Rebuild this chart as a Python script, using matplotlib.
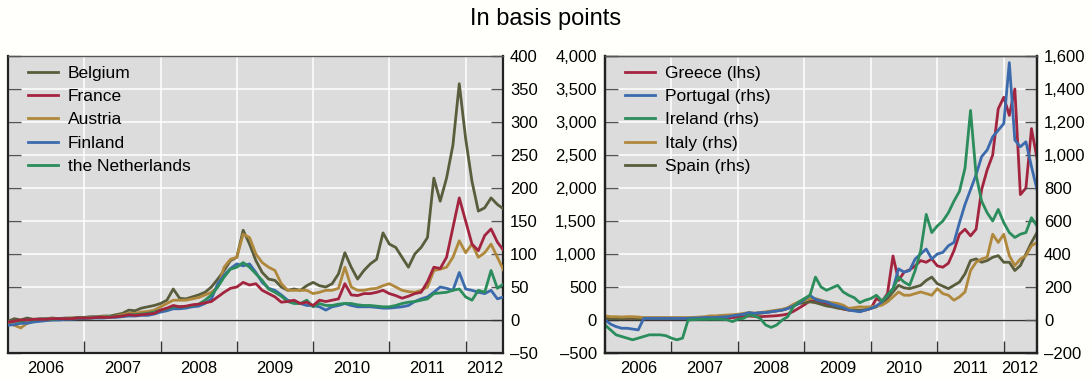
import numpy as np
import matplotlib
matplotlib.use("Agg")
import matplotlib.pyplot as plt
from matplotlib.ticker import FixedLocator, FuncFormatter, NullFormatter

plt.rcParams["font.family"] = ["Liberation Sans", "DejaVu Sans"]

# Monthly observations, January 2006 to July 2012 (basis points)
month_index = np.arange(79)
time_axis = 2006 + month_index / 12.0

belgium = [-2, 2, 0, 3, 1, 2, 2, 3, 2, 3, 3, 4,
           4, 5, 5, 6, 6, 8, 10, 15, 14, 18, 20, 22,
           25, 30, 47, 33, 32, 35, 38, 42, 50, 62, 75, 90,
           95, 136, 115, 90, 72, 62, 60, 50, 45, 47, 45, 52,
           57, 52, 50, 55, 70, 102, 80, 62, 75, 85, 92, 132,
           115, 110, 95, 80, 100, 110, 125, 215, 180, 215, 265, 358,
           275, 210, 165, 170, 185, 175, 168]
france = [-3, -2, 0, 0, 1, 1, 1, 2, 2, 2, 2, 3,
          3, 3, 4, 4, 4, 5, 6, 8, 7, 8, 9, 10,
          15, 18, 22, 20, 21, 23, 24, 26, 28, 35, 42, 48,
          50, 57, 53, 55, 45, 40, 35, 27, 28, 30, 25, 27,
          22, 30, 28, 30, 32, 55, 38, 37, 40, 40, 42, 45,
          40, 37, 33, 36, 40, 42, 58, 80, 78, 95, 140, 185,
          150, 115, 105, 128, 138, 118, 105]
austria = [-5, -8, -12, -5, -2, 0, 1, 2, 2, 2, 3, 3,
           3, 4, 4, 5, 5, 6, 8, 10, 10, 12, 13, 15,
           20, 25, 30, 30, 30, 32, 34, 38, 42, 50, 80, 92,
           95, 130, 125, 100, 87, 80, 75, 55, 45, 45, 45, 45,
           40, 42, 45, 45, 48, 80, 50, 45, 45, 47, 48, 52,
           55, 50, 45, 43, 42, 45, 50, 75, 77, 80, 95, 120,
           102, 115, 95, 102, 115, 95, 75]
finland = [-8, -7, -5, -5, -3, -2, -1, 0, 0, 1, 1, 2,
           2, 3, 3, 3, 4, 4, 5, 6, 6, 7, 7, 9,
           12, 14, 17, 17, 18, 20, 21, 25, 32, 55, 68, 78,
           85, 82, 85, 72, 57, 48, 45, 38, 30, 27, 25, 22,
           22, 20, 15, 20, 22, 25, 22, 20, 20, 20, 19, 18,
           18, 19, 20, 22, 28, 32, 35, 42, 50, 48, 45, 72,
           47, 45, 42, 40, 45, 32, 35]
netherlands = [-3, -2, -2, 0, 0, 1, 1, 1, 2, 2, 2, 3,
               3, 3, 4, 4, 5, 5, 6, 8, 8, 9, 10, 12,
               15, 17, 20, 20, 20, 22, 24, 30, 38, 50, 65, 77,
               80, 87, 80, 70, 60, 47, 42, 36, 28, 25, 25, 30,
               20, 25, 22, 22, 24, 25, 25, 23, 22, 22, 21, 20,
               20, 22, 25, 27, 28, 30, 32, 40, 41, 42, 45, 47,
               35, 30, 45, 42, 75, 48, 55]

greece = [30, 25, 25, 22, 25, 25, 22, 20, 20, 20, 20, 20,
          20, 20, 22, 22, 22, 25, 25, 30, 28, 30, 30, 35,
          45, 50, 60, 55, 50, 55, 60, 65, 75, 90, 130, 180,
          230, 290, 280, 270, 250, 225, 190, 165, 150, 150, 130, 150,
          175, 325, 280, 400, 970, 600, 725, 760, 820, 900, 875, 925,
          820, 800, 860, 1050, 1300, 1375, 1275, 1375, 1975, 2275, 2500, 3200,
          3375, 3100, 3500, 1900, 2000, 2900, 2450]
portugal = [0, -25, -40, -50, -50, -55, -60, 10, 10, 10, 10, 10,
            10, 10, 10, 10, 12, 12, 15, 15, 15, 18, 20, 25,
            30, 35, 45, 40, 45, 45, 50, 55, 60, 70, 85, 100,
            125, 150, 125, 115, 110, 95, 85, 75, 60, 55, 50, 60,
            70, 85, 110, 150, 190, 310, 290, 300, 370, 400, 430, 370,
            400, 410, 450, 470, 590, 700, 790, 880, 990, 1030, 1110, 1150,
            1190, 1560, 1090, 1050, 1080, 930, 790]
ireland = [-30, -60, -90, -100, -110, -120, -110, -100, -90, -90, -90, -95,
           -110, -120, -110, 0, 2, 4, 4, 5, 5, 4, 2, -10,
           5, 10, 30, 25, 10, -30, -45, -30, 0, 20, 80, 110,
           130, 150, 260, 200, 180, 195, 210, 170, 150, 135, 105, 120,
           130, 150, 115, 150, 190, 260, 230, 210, 300, 420, 640, 530,
           570, 600, 650, 720, 780, 920, 1270, 880, 720, 650, 600, 670,
           590, 530, 500, 520, 530, 620, 570]
italy = [25, 20, 20, 18, 20, 20, 18, 15, 15, 15, 15, 15,
         15, 15, 15, 15, 16, 18, 20, 25, 25, 28, 30, 32,
         35, 40, 45, 42, 45, 50, 55, 60, 65, 75, 95, 110,
         120, 130, 130, 120, 110, 105, 100, 90, 70, 75, 80, 78,
         80, 85, 90, 110, 140, 170, 150, 150, 160, 170, 160, 150,
         190, 160, 150, 120, 140, 170, 300, 350, 370, 380, 520, 470,
         520, 390, 330, 370, 390, 450, 470]
spain = [10, 8, 8, 8, 10, 10, 8, 8, 8, 8, 8, 8,
         8, 8, 10, 10, 10, 12, 15, 20, 20, 25, 25, 28,
         30, 35, 40, 38, 40, 45, 50, 55, 60, 70, 85, 100,
         105, 110, 105, 95, 85, 80, 72, 68, 62, 60, 60, 62,
         70, 80, 100, 130, 170, 210, 195, 190, 200, 210, 240, 260,
         220, 205, 190, 210, 230, 280, 360, 370, 350, 360, 380, 390,
         350, 350, 300, 330, 400, 470, 530]

year_labels = ["2006", "2007", "2008", "2009", "2010", "2011", "2012"]
left_ticks = [-50, 0, 50, 100, 150, 200, 250, 300, 350, 400]
lhs_ticks = [-500, 0, 500, 1000, 1500, 2000, 2500, 3000, 3500, 4000]
rhs_ticks = [-200, 0, 200, 400, 600, 800, 1000, 1200, 1400, 1600]

C_OLIVE = "#5a5d3c"
C_RED = "#a3243f"
C_TAN = "#b0883c"
C_BLUE = "#3b6aad"
C_GREEN = "#2b8c5c"

BG = "#dcdcdc"
FIG_BG = "#fffffb"
FS = 12
LEG_FS = 12.5
LW = 2.0
X_END = 2012.49


def fmt_num(v, _pos=None):
    s = "{:,.0f}".format(abs(v))
    return ("\u2013" + s) if v < 0 else s


def style_axes(ax):
    ax.set_facecolor(BG)
    ax.set_xlim(2006, X_END)
    year_starts = [2007, 2008, 2009, 2010, 2011, 2012]
    ax.xaxis.set_major_locator(FixedLocator(year_starts))
    ax.xaxis.set_major_formatter(NullFormatter())
    mids = [2006.5, 2007.5, 2008.5, 2009.5, 2010.5, 2011.5, (2012 + X_END) / 2]
    ax.xaxis.set_minor_locator(FixedLocator(mids))
    ax.xaxis.set_minor_formatter(FuncFormatter(lambda v, p: year_labels[p]))
    ax.tick_params(axis="x", which="major", direction="in", length=9,
                   width=1.0, color="#333333", top=False)
    ax.tick_params(axis="x", which="minor", length=0, pad=6, labelsize=FS)
    ax.grid(True, which="major", axis="both", color="white", lw=1.1, zorder=0)
    ax.set_axisbelow(True)
    for side in ("left", "right", "bottom"):
        ax.spines[side].set_color("#222222")
        ax.spines[side].set_linewidth(1.6)
    ax.spines["top"].set_color("#555555")
    ax.spines["top"].set_linewidth(1.0)


fig = plt.figure(figsize=(10.92, 3.8), dpi=100, facecolor=FIG_BG)
fig.text(0.5, 0.950, "In basis points", ha="center", va="center", fontsize=17)

# Left panel: core euro area
axL = fig.add_axes([8 / 1092, 27 / 380, 495 / 1092, 297 / 380])
style_axes(axL)
axL.set_ylim(-50, 400)
axL.yaxis.set_major_locator(FixedLocator(left_ticks))
axL.yaxis.set_major_formatter(FuncFormatter(fmt_num))
axL.tick_params(axis="y", direction="in", length=9, width=1.0, color="#555555",
                left=True, right=True, labelleft=False, labelright=True,
                labelsize=FS, pad=5)
axL.axhline(0, color="#333333", lw=1.0, zorder=1)

left_series = [("Belgium", belgium, C_OLIVE), ("France", france, C_RED),
               ("Austria", austria, C_TAN), ("Finland", finland, C_BLUE),
               ("the Netherlands", netherlands, C_GREEN)]
draw_order = ["Belgium", "Austria", "Finland", "the Netherlands", "France"]
handles = {}
for name in draw_order:
    vals, col = [(v, c) for n, v, c in left_series if n == name][0]
    (ln,) = axL.plot(time_axis, vals, color=col, lw=LW, zorder=3,
                     solid_joinstyle="round")
    handles[name] = ln
axL.legend([handles[n] for n, _, _ in left_series], [n for n, _, _ in left_series],
           loc="upper left", bbox_to_anchor=(0.040, 0.968), frameon=False,
           fontsize=LEG_FS, handlelength=1.75, handletextpad=0.55, labelspacing=0.47,
           borderpad=0, borderaxespad=0)

# Right panel: Greece on the left scale, the rest on the right scale
axR = fig.add_axes([605 / 1092, 27 / 380, 432 / 1092, 297 / 380])
style_axes(axR)
axR.set_xlim(2006, 2012.5)
axR.set_ylim(-500, 4000)
axR.yaxis.set_major_locator(FixedLocator(lhs_ticks))
axR.yaxis.set_major_formatter(FuncFormatter(fmt_num))
axR.tick_params(axis="y", direction="in", length=9, width=1.0, color="#555555",
                left=True, right=False, labelsize=FS, pad=6)
axR.axhline(0, color="#333333", lw=1.0, zorder=1)
(gr_line,) = axR.plot(time_axis, greece, color=C_RED, lw=LW, zorder=3,
                      solid_joinstyle="round")

axR2 = axR.twinx()
axR2.set_ylim(-200, 1600)
axR2.yaxis.set_major_locator(FixedLocator(rhs_ticks))
axR2.yaxis.set_major_formatter(FuncFormatter(fmt_num))
axR2.tick_params(axis="y", direction="in", length=9, width=1.0, color="#555555",
                 labelsize=FS, pad=5)
for side in ("left", "right", "bottom"):
    axR2.spines[side].set_color("#222222")
    axR2.spines[side].set_linewidth(1.6)
axR2.spines["top"].set_color("#555555")
axR2.spines["top"].set_linewidth(1.0)

(sp_line,) = axR2.plot(time_axis, spain, color=C_OLIVE, lw=LW, solid_joinstyle="round")
(it_line,) = axR2.plot(time_axis, italy, color=C_TAN, lw=LW, solid_joinstyle="round")
(pt_line,) = axR2.plot(time_axis, portugal, color=C_BLUE, lw=LW, solid_joinstyle="round")
(ie_line,) = axR2.plot(time_axis, ireland, color=C_GREEN, lw=LW, solid_joinstyle="round")

axR2.legend([gr_line, pt_line, ie_line, it_line, sp_line],
            ["Greece (lhs)", "Portugal (rhs)", "Ireland (rhs)", "Italy (rhs)", "Spain (rhs)"],
            loc="upper left", bbox_to_anchor=(0.046, 0.968), frameon=False,
            fontsize=LEG_FS, handlelength=1.75, handletextpad=0.55, labelspacing=0.47,
            borderpad=0, borderaxespad=0)

fig.savefig("out.png", dpi=100, facecolor=FIG_BG)
